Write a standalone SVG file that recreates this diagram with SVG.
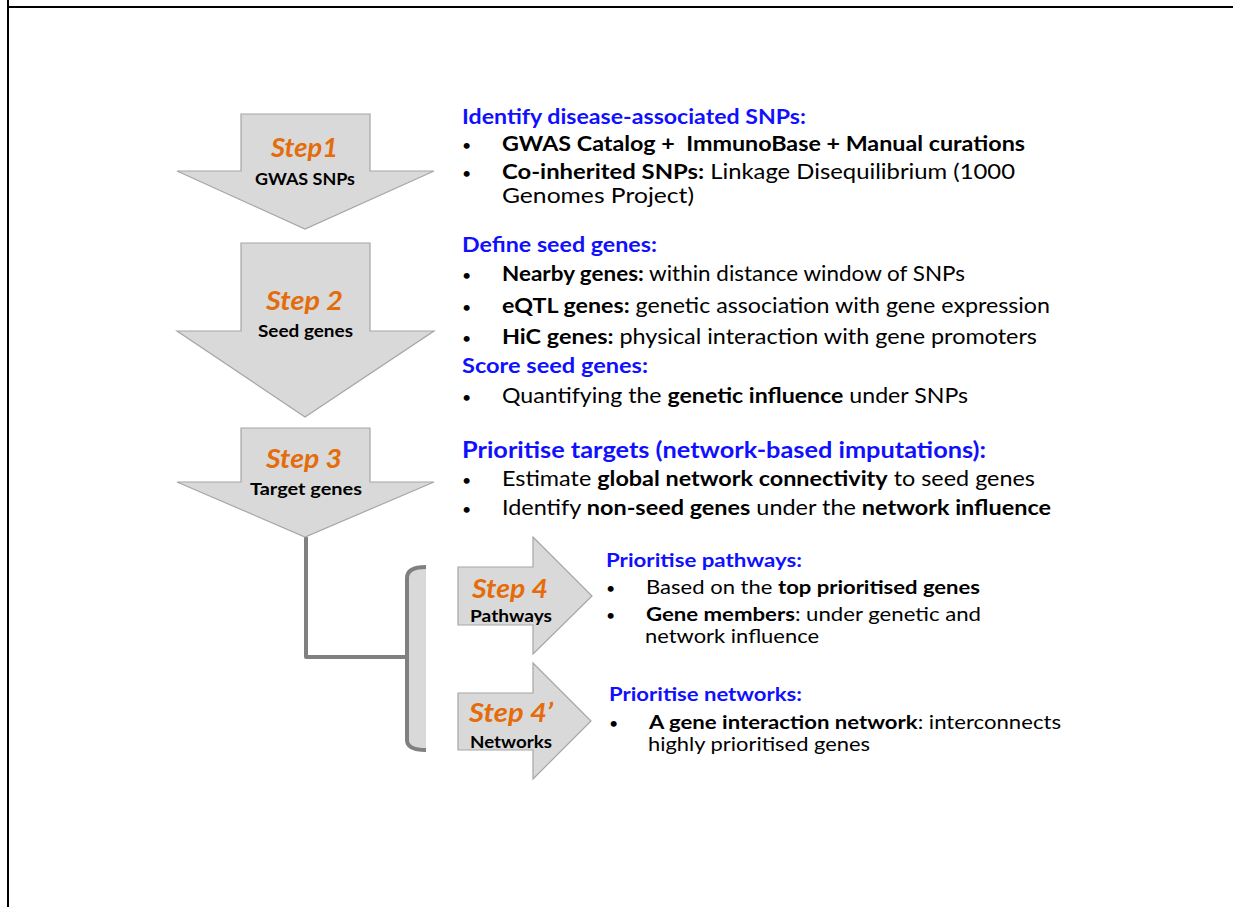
<svg xmlns="http://www.w3.org/2000/svg" width="1233" height="907" viewBox="0 0 1233 907">
  <style>
    .frame { stroke: #000; stroke-width: 2; fill: none; }
    .arrow { fill: #d9d9d9; stroke: #a6a6a6; stroke-width: 1.2; stroke-linejoin: miter; }
    .step { font-family: Lato, "Open Sans", sans-serif; font-weight: bold; font-style: italic; fill: #e46c0a; }
    .sub { font-family: Lato, "Open Sans", sans-serif; font-weight: bold; fill: #000; font-size: 17px; }
    .head { font-family: Lato, "Open Sans", sans-serif; font-weight: bold; fill: #1010ff; }
    .body { font-family: Lato, "Open Sans", sans-serif; fill: #000; }
    .dot { font-family: Lato, "Open Sans", sans-serif; fill: #000; font-size: 16px; }
    .b { font-weight: bold; }
    .link { fill: none; stroke: #808080; stroke-width: 4; stroke-linejoin: round; }
  </style>

  <!-- page frame -->
  <g id="frame">
    <line class="frame" x1="8" y1="0" x2="8" y2="907"/>
    <line class="frame" x1="8" y1="7" x2="1233" y2="7"/>
  </g>

  <!-- connectors: step 3 down to the bracket feeding steps 4 and 4' -->
  <g id="connectors">
    <path d="M426,567 Q407,567 407,578 L407,740 Q407,750 426,750 Z" fill="#d9d9d9" stroke="none"/>
    <path class="link" d="M426,567 Q407,567 407,578 L407,740 Q407,750 426,750"/>
    <path class="link" d="M306,537 L306,657 L407,657"/>
  </g>

  <!-- Step 1 -->
  <g id="step1">
    <polygon class="arrow" points="241,114 370,114 370,171 434,171 305,229 177,171 241,171"/>
    <text class="step" x="271" y="157" font-size="26" textLength="67" lengthAdjust="spacingAndGlyphs">Step1</text>
    <text class="sub" x="255" y="185" textLength="100" lengthAdjust="spacingAndGlyphs">GWAS SNPs</text>
  </g>

  <!-- Step 2 -->
  <g id="step2">
    <polygon class="arrow" points="241,243 370,243 370,331 434,331 305,417 177,331 241,331"/>
    <text class="step" x="266" y="310" font-size="27" textLength="77" lengthAdjust="spacingAndGlyphs">Step 2</text>
    <text class="sub" x="258" y="337" textLength="95" lengthAdjust="spacingAndGlyphs">Seed genes</text>
  </g>

  <!-- Step 3 -->
  <g id="step3">
    <polygon class="arrow" points="241,428 370,428 370,482 434,482 305,537 177,482 241,482"/>
    <text class="step" x="266" y="468" font-size="27" textLength="76" lengthAdjust="spacingAndGlyphs">Step 3</text>
    <text class="sub" x="250" y="495" textLength="112" lengthAdjust="spacingAndGlyphs">Target genes</text>
  </g>

  <!-- Step 4 -->
  <g id="step4">
    <polygon class="arrow" points="458,567 533,567 533,537 592,596 533,654 533,625 458,625"/>
    <text class="step" x="472" y="598" font-size="27" textLength="76" lengthAdjust="spacingAndGlyphs">Step 4</text>
    <text class="sub" x="470" y="622" textLength="82" lengthAdjust="spacingAndGlyphs">Pathways</text>
  </g>

  <!-- Step 4' -->
  <g id="step4b">
    <polygon class="arrow" points="458,693 533,693 533,663 591,721 533,779 533,750 458,750"/>
    <text class="step" x="469" y="722" font-size="27" textLength="84" lengthAdjust="spacingAndGlyphs">Step 4’</text>
    <text class="sub" x="470" y="748" textLength="82" lengthAdjust="spacingAndGlyphs">Networks</text>
  </g>

  <!-- Step 1 description -->
  <g id="desc1" font-size="20.5">
    <text class="head" x="462" y="124" textLength="344" lengthAdjust="spacingAndGlyphs">Identify disease-associated SNPs:</text>
    <text class="dot" x="462" y="151">•</text>
    <text class="body b" x="502" y="151" textLength="523" lengthAdjust="spacingAndGlyphs" xml:space="preserve">GWAS Catalog +  ImmunoBase + Manual curations</text>
    <text class="dot" x="462" y="179">•</text>
    <text class="body" x="502" y="179" textLength="513" lengthAdjust="spacingAndGlyphs"><tspan class="b">Co-inherited SNPs:</tspan> Linkage Disequilibrium (1000</text>
    <text class="body" x="502" y="203" textLength="192" lengthAdjust="spacingAndGlyphs">Genomes Project)</text>
  </g>

  <!-- Step 2 description -->
  <g id="desc2" font-size="20.5">
    <text class="head" x="462" y="252" textLength="195" lengthAdjust="spacingAndGlyphs">Define seed genes:</text>
    <text class="dot" x="462" y="281">•</text>
    <text class="body" x="502" y="281" textLength="463" lengthAdjust="spacingAndGlyphs"><tspan class="b">Nearby genes:</tspan> within distance window of SNPs</text>
    <text class="dot" x="462" y="313">•</text>
    <text class="body" x="502" y="313" textLength="548" lengthAdjust="spacingAndGlyphs"><tspan class="b">eQTL genes:</tspan> genetic association with gene expression</text>
    <text class="dot" x="462" y="344">•</text>
    <text class="body" x="502" y="344" textLength="535" lengthAdjust="spacingAndGlyphs"><tspan class="b">HiC genes:</tspan> physical interaction with gene promoters</text>
    <text class="head" x="462" y="373" textLength="186" lengthAdjust="spacingAndGlyphs">Score seed genes:</text>
    <text class="dot" x="462" y="403">•</text>
    <text class="body" x="502" y="403" textLength="466" lengthAdjust="spacingAndGlyphs">Quantifying the <tspan class="b">genetic influence</tspan> under SNPs</text>
  </g>

  <!-- Step 3 description -->
  <g id="desc3" font-size="20.5">
    <text class="head" x="462" y="458" font-size="22.5" textLength="524" lengthAdjust="spacingAndGlyphs">Prioritise targets (network-based imputations):</text>
    <text class="dot" x="462" y="486">•</text>
    <text class="body" x="502" y="486" textLength="533" lengthAdjust="spacingAndGlyphs">Estimate <tspan class="b">global network connectivity</tspan> to seed genes</text>
    <text class="dot" x="462" y="515">•</text>
    <text class="body" x="502" y="515" textLength="549" lengthAdjust="spacingAndGlyphs">Identify <tspan class="b">non-seed genes</tspan> under the <tspan class="b">network influence</tspan></text>
  </g>

  <!-- Step 4 description -->
  <g id="desc4" font-size="19">
    <text class="head" x="606" y="567" textLength="196" lengthAdjust="spacingAndGlyphs">Prioritise pathways:</text>
    <text class="dot" x="606" y="594">•</text>
    <text class="body" x="646" y="594" textLength="334" lengthAdjust="spacingAndGlyphs">Based on the <tspan class="b">top prioritised genes</tspan></text>
    <text class="dot" x="606" y="621">•</text>
    <text class="body" x="646" y="621" textLength="335" lengthAdjust="spacingAndGlyphs"><tspan class="b">Gene members</tspan>: under genetic and</text>
    <text class="body" x="645" y="643" textLength="174" lengthAdjust="spacingAndGlyphs">network influence</text>
  </g>

  <!-- Step 4' description -->
  <g id="desc4b" font-size="19">
    <text class="head" x="609" y="701" textLength="193" lengthAdjust="spacingAndGlyphs">Prioritise networks:</text>
    <text class="dot" x="609" y="729">•</text>
    <text class="body" x="649" y="729" textLength="412" lengthAdjust="spacingAndGlyphs"><tspan class="b">A gene interaction network</tspan>: interconnects</text>
    <text class="body" x="648" y="751" textLength="222" lengthAdjust="spacingAndGlyphs">highly prioritised genes</text>
  </g>
</svg>
